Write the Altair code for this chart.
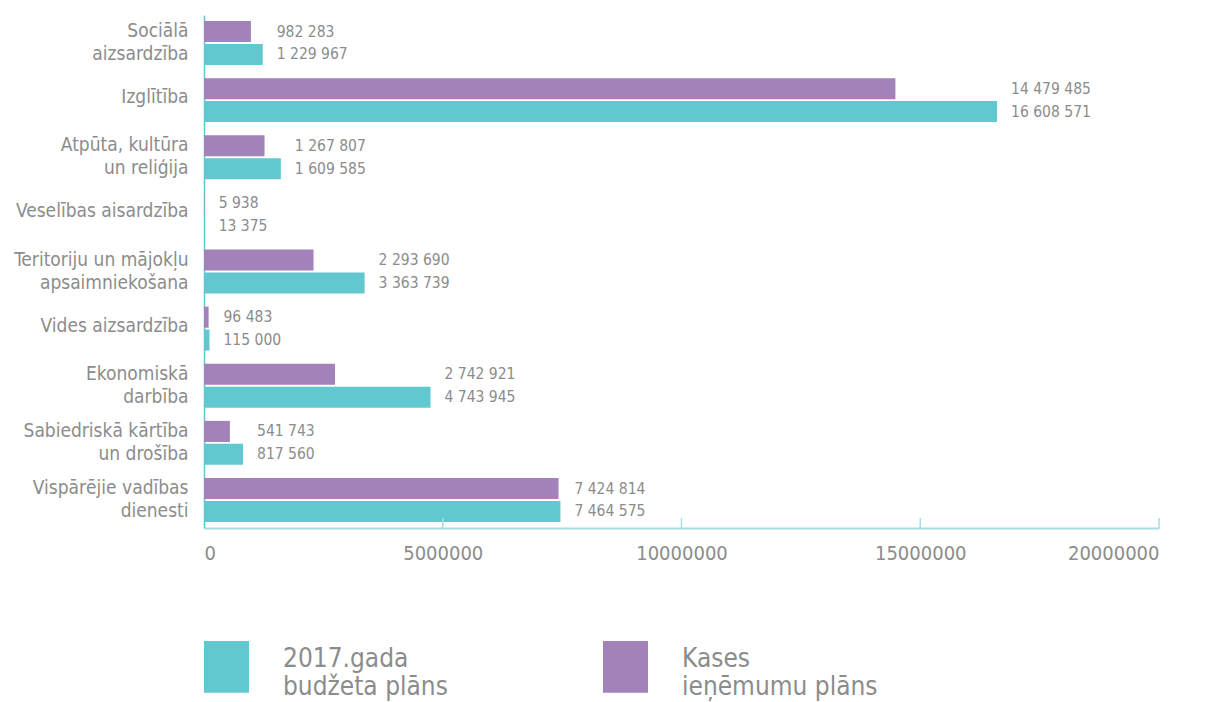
import altair as alt
import pandas as pd

categories = [
    "Sociālā|aizsardzība",
    "Izglītība",
    "Atpūta, kultūra|un reliģija",
    "Veselības aisardzība",
    "Teritoriju un mājokļu|apsaimniekošana",
    "Vides aizsardzība",
    "Ekonomiskā|darbība",
    "Sabiedriskā kārtība|un drošība",
    "Vispārējie vadības|dienesti",
]
kases = [982283, 14479485, 1267807, 5938, 2293690, 96483, 2742921, 541743, 7424814]
budzets = [1229967, 16608571, 1609585, 13375, 3363739, 115000, 4743945, 817560, 7464575]
series_names = ["2017.gada|budžeta plāns", "Kases|ieņēmumu plāns"]
series_colors = ["#62c8cf", "#a381b9"]
x_ticks = [5000000, 10000000, 15000000, 20000000]

rows = []
for c, k, b in zip(categories, kases, budzets):
    rows.append({"cat": c, "series": series_names[1], "value": k, "order": 0})
    rows.append({"cat": c, "series": series_names[0], "value": b, "order": 1})
df = pd.DataFrame(rows)
df["label"] = df["value"].map(lambda v: f"{v:,}".replace(",", " "))

FONT = "DejaVu Sans Condensed"
GREY = "#8c8c8c"
W, H = 955, 513

yscale = alt.Scale(domain=categories, paddingInner=0.23, paddingOuter=0.105)
yoff = alt.YOffset("order:O", scale=alt.Scale(paddingInner=0.08, paddingOuter=0))

two_line = "indexof(datum.value, '|') >= 0"

bars = alt.Chart(df).mark_bar(strokeWidth=0).encode(
    x=alt.X("value:Q", scale=alt.Scale(domain=[0, 20000000], nice=False),
            axis=alt.Axis(values=[0] + x_ticks, format="d", ticks=False, grid=False,
                          domainColor="#a6dde2", domainWidth=2,
                          labelFont=FONT, labelFontSize=20, labelColor=GREY,
                          labelPadding=15, title=None)),
    y=alt.Y("cat:N", scale=yscale,
            axis=alt.Axis(labelExpr="split(datum.label, '|')", ticks=False,
                          domainColor="#62c8cf", domainWidth=1.5,
                          labelFont=FONT, labelFontSize=19, labelColor=GREY,
                          labelLineHeight=23, labelPadding=16, labelLimit=300,
                          labelOffset={"condition": {"test": two_line, "value": 0},
                                       "value": -3},
                          labelBaseline={"condition": {"test": two_line, "value": "line-bottom"},
                                         "value": "middle"},
                          title=None)),
    yOffset=yoff,
    color=alt.Color("series:N", scale=alt.Scale(domain=series_names, range=series_colors),
                    legend=alt.Legend(orient="none", legendX=0, legendY=629,
                                      direction="horizontal", title=None,
                                      symbolType="M-1,-1.15H1V1.15H-1Z", symbolSize=2025,
                                      symbolStrokeWidth=0, symbolOpacity=1,
                                      labelExpr="split(datum.label, '|')",
                                      labelFont=FONT, labelFontSize=26,
                                      labelBaseline="alphabetic",
                                      labelColor=GREY, labelOffset=34,
                                      columnPadding=155, labelLimit=400)),
)

texts = alt.Chart(df).transform_joinaggregate(
    mx="max(value)", groupby=["cat"]
).mark_text(align="left", baseline="middle", dx=14, font=FONT, fontSize=15.5,
            color=GREY).encode(
    x=alt.X("mx:Q"),
    y=alt.Y("cat:N", scale=yscale),
    yOffset=yoff,
    text="label:N",
)

tick_df = pd.DataFrame({"t": x_ticks})
ticks = alt.Chart(tick_df).mark_rule(color="#a6dde2", strokeWidth=1.5).encode(
    x="t:Q", y=alt.value(H - 10), y2=alt.value(H)
)

chart = alt.layer(bars, ticks, texts).properties(
    width=W, height=H,
    autosize=alt.AutoSizeParams(type="none"),
    padding={"left": 196, "top": 7, "right": 42, "bottom": 174},
    background="white",
).configure_view(stroke=None)

chart.save("out.html", embed_options={"renderer": "svg", "actions": False})
